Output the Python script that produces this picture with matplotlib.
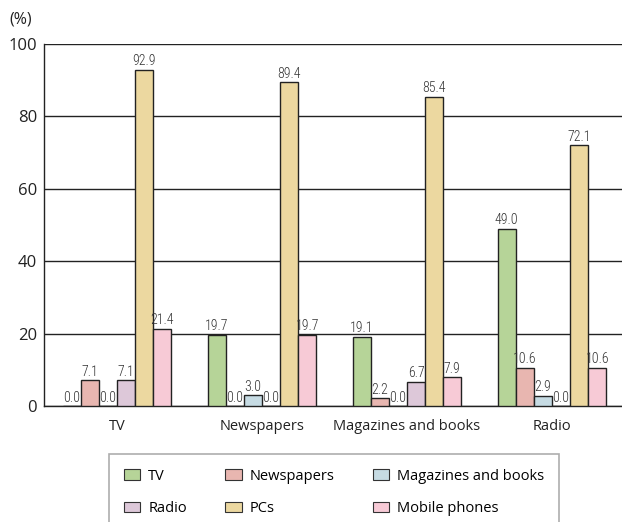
import numpy as np
import matplotlib.pyplot as plt
from matplotlib.patches import Patch

# categories on the x axis and the series drawn in each group
categories = ['TV', 'Newspapers', 'Magazines and books', 'Radio']
series = ['TV', 'Newspapers', 'Magazines and books', 'Radio', 'PCs', 'Mobile phones']

# values (%) per series, one entry per category
tv_vals = [0.0, 19.7, 19.1, 49.0]
newspaper_vals = [7.1, 0.0, 2.2, 10.6]
magazine_vals = [0.0, 3.0, 0.0, 2.9]
radio_vals = [7.1, 0.0, 6.7, 0.0]
pc_vals = [92.9, 89.4, 85.4, 72.1]
mobile_vals = [21.4, 19.7, 7.9, 10.6]

colors = ['#b6d498', '#e8b6b0', '#c6dbe3', '#ddc8d9', '#ecd8a0', '#f7cad6']

plt.rcParams['font.family'] = ['Open Sans', 'DejaVu Sans']

fig = plt.figure(figsize=(6.22, 5.22), dpi=100)
ax = fig.add_axes([44 / 622, 1 - 406 / 522, 1 - 44 / 622, (406 - 44) / 522])

x = np.arange(len(categories))
width = 0.125
all_vals = [tv_vals, newspaper_vals, magazine_vals, radio_vals, pc_vals, mobile_vals]

for i, vals in enumerate(all_vals):
    pos = x + (i - 2.5) * width
    ax.bar(pos, vals, width, color=colors[i], edgecolor='#222222', linewidth=1.0, zorder=3)
    for px, v in zip(pos, vals):
        ax.text(px, v + 0.4, f'{v:.1f}', ha='center', va='bottom', fontsize=10,
                family=['Roboto Condensed', 'Liberation Sans Narrow', 'Roboto', 'DejaVu Sans'],
                fontweight='light', color='#333333', zorder=4)

ax.set_xlim(-0.503, 3.483)
ax.set_ylim(0, 100)
ax.set_yticks([0, 20, 40, 60, 80, 100])
ax.set_xticks(x)
ax.set_xticklabels(categories, fontsize=10.5)
ax.tick_params(axis='both', length=0, colors='#222222')
ax.tick_params(axis='y', labelsize=12, pad=5)
ax.tick_params(axis='x', pad=9)
ax.yaxis.grid(True, color='#222222', linewidth=1.0, zorder=0)
for s in ['top', 'right']:
    ax.spines[s].set_visible(False)
ax.spines['left'].set_color('#222222')
ax.spines['bottom'].set_color('#222222')
ax.spines['left'].set_linewidth(1.0)
ax.spines['bottom'].set_linewidth(1.0)

fig.text(9 / 622, 1 - 20 / 522, '(%)', fontsize=11.5, ha='left', va='center', color='#222222')

# legend: rows TV/Newspapers/Magazines, Radio/PCs/Mobile (column-major order)
handles = [Patch(facecolor=c, edgecolor='#333333', linewidth=0.8) for c in colors]
order = [0, 3, 1, 4, 2, 5]
leg = fig.legend([handles[k] for k in order], [series[k] for k in order],
                 ncol=3, loc='upper left', bbox_to_anchor=(109 / 622, 1 - 454 / 522),
                 borderaxespad=0, fontsize=10.5, frameon=True, fancybox=False,
                 handlelength=1.15, handleheight=0.75, columnspacing=2.6,
                 labelspacing=1.2, borderpad=1.0, handletextpad=0.55)
leg.get_frame().set_edgecolor('#999999')
leg.get_frame().set_linewidth(1.2)

fig.savefig('out.png', dpi=100)
